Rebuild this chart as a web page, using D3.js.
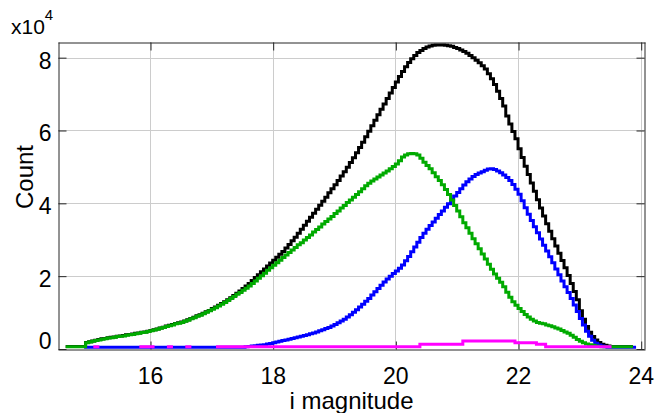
<!DOCTYPE html>
<html><head><meta charset="utf-8">
<script src="https://cdn.jsdelivr.net/npm/d3@7"></script>
<style>body{margin:0;background:#fff} svg{display:block}</style>
</head><body>
<svg id="chart" width="665" height="413"></svg>
<script>
// bins: left edges from 14.65, width 0.05 mag
const binStart = 14.65, binWidth = 0.05;
const xTicks = [16, 18, 20, 22, 24];
const xTickLabels = ["16", "18", "20", "22", "24"];
const yTicks = [0, 2, 4, 6, 8];
const yTickLabels = ["0", "2", "4", "6", "8"];
const xLabel = "i magnitude", yLabel = "Count";

// values in units of 10^4
const blackTotal = [
 .07,.07,.07,.07,.07,.07,.18,
 .20,.22,.24,.26,.28,.29,.31,.32,.33,.35,
 .36,.37,.39,.40,.41,.43,.44,.46,.47,.49,
 .51,.53,.55,.58,.60,.63,.65,.67,.70,.72,
 .74,.77,.80,.84,.87,.91,.94,.98,1.02,1.06,
 1.11,1.15,1.20,1.25,1.30,1.35,1.41,1.47,1.53,1.59,
 1.66,1.73,1.80,1.88,1.96,2.04,2.12,2.20,2.28,2.36,
 2.44,2.52,2.60,2.68,2.77,2.87,2.97,3.07,3.18,3.29,
 3.40,3.51,3.62,3.73,3.84,3.95,4.06,4.17,4.29,4.40,
 4.51,4.63,4.75,4.87,4.99,5.12,5.25,5.39,5.53,5.68,
 5.83,5.98,6.13,6.28,6.43,6.58,6.73,6.88,7.03,7.18,
 7.33,7.48,7.62,7.75,7.87,7.97,8.06,8.14,8.20,8.25,
 8.29,8.32,8.34,8.35,8.35,8.35,8.34,8.33,8.31,8.28,
 8.25,8.21,8.17,8.12,8.06,8.00,7.93,7.86,7.78,7.69,
 7.56,7.42,7.26,7.08,6.88,6.67,6.40,6.18,5.97,5.77,
 5.50,5.26,5.02,4.79,4.56,4.33,4.10,3.87,3.65,3.44,
 3.23,3.03,2.83,2.63,2.43,2.23,2.02,1.80,1.58,1.35,
 1.05,0.82,0.62,0.46,0.34,0.25,0.18,0.13,0.10,0.08,
 .07,.07,.07,.07,.07,.07,.07,null
];
const greenSeries = [
 .06,.06,.06,.06,.06,.06,.17,
 .19,.21,.23,.25,.27,.28,.30,.31,.32,.34,
 .35,.36,.38,.39,.40,.42,.43,.45,.46,.48,
 .50,.52,.54,.57,.59,.62,.64,.66,.69,.71,
 .73,.76,.79,.83,.86,.90,.93,.97,1.01,1.05,
 1.09,1.13,1.18,1.23,1.28,1.33,1.39,1.44,1.50,1.55,
 1.61,1.67,1.73,1.80,1.87,1.94,2.01,2.08,2.16,2.23,
 2.30,2.37,2.44,2.51,2.58,2.65,2.72,2.79,2.86,2.92,
 2.99,3.06,3.13,3.21,3.28,3.35,3.43,3.50,3.57,3.64,
 3.72,3.79,3.87,3.94,4.02,4.09,4.17,4.24,4.32,4.40,
 4.48,4.55,4.61,4.67,4.72,4.78,4.83,4.89,4.95,5.01,
 5.08,5.17,5.27,5.33,5.36,5.37,5.36,5.33,5.24,5.13,
 5.04,4.95,4.84,4.73,4.63,4.51,4.38,4.24,4.09,3.94,
 3.79,3.63,3.47,3.33,3.18,3.03,2.89,2.75,2.61,2.47,
 2.33,2.19,2.06,1.94,1.83,1.71,1.56,1.42,1.30,1.20,
 1.11,1.03,0.95,0.88,0.82,0.77,0.73,0.71,0.69,0.66,
 0.64,0.61,0.58,0.55,0.51,0.47,0.43,0.38,0.32,0.26,
 0.21,0.17,0.14,0.12,0.10,0.08,0.07,0.06,0.06,0.06,
 .06,.06,.06,.06,.06,.06,.06,null
];
const blueSeries = [
 null,null,null,null,null,null,.05,
 .05,.05,.05,.05,.05,.05,.05,.05,.05,.05,
 .05,.05,.05,.05,.05,.05,.05,.05,.05,.05,
 .05,.05,.05,.05,.05,.05,.05,.05,.05,.05,
 .05,.05,.05,.05,.05,.05,.05,.05,.05,.05,
 .05,.05,.05,.05,.05,.05,.05,.05,.05,.05,
 .05,.06,.07,.08,.09,.10,.11,.12,.14,.15,
 .17,.19,.21,.23,.25,.27,.29,.31,.33,.35,
 .37,.39,.42,.44,.47,.50,.53,.56,.59,.63,
 .67,.72,.77,.82,.88,.94,1.01,1.08,1.15,1.23,
 1.31,1.39,1.48,1.57,1.66,1.75,1.84,1.92,2.00,2.07,
 2.14,2.22,2.31,2.42,2.54,2.67,2.80,2.93,3.06,3.18,
 3.29,3.39,3.49,3.59,3.69,3.79,3.89,3.99,4.10,4.20,
 4.30,4.40,4.50,4.59,4.67,4.74,4.79,4.83,4.87,4.91,
 4.94,4.95,4.93,4.89,4.84,4.78,4.71,4.63,4.52,4.39,
 4.25,4.07,3.88,3.70,3.53,3.36,3.19,3.02,2.85,2.69,
 2.53,2.37,2.20,2.04,1.87,1.71,1.55,1.39,1.21,1.03,
 0.84,0.66,0.49,0.35,0.24,0.16,0.11,0.08,0.06,0.05,
 .05,.05,.05,.05,.05,.05,.05,.05
];
const magentaSeries = [
 null,null,null,null,null,null,null,
 null,null,.06,null,null,null,null,null,null,null,
 null,null,null,null,null,null,null,.06,.06,.06,
 .06,null,null,null,null,null,.06,null,null,null,
 null,null,.06,null,null,null,null,null,null,null,
 null,null,.06,.06,.06,.06,.06,.06,.06,.06,
 .06,.06,.06,.06,.06,.06,.06,.06,.06,.06,
 .06,.06,.06,.06,.06,.06,.06,.06,.06,.06,
 .06,.06,.06,.06,.06,.06,.06,.06,.06,.06,
 .06,.06,.06,.06,.06,.06,.06,.06,.06,.06,
 .06,.06,.06,.06,.06,.06,.06,.06,.06,.06,
 .06,.06,.06,.06,.06,.06,.06,.06,.13,.13,
 .13,.13,.13,.13,.13,.13,.13,.13,.13,.13,
 .13,.13,.22,.22,.22,.22,.22,.22,.22,.22,
 .22,.22,.22,.22,.22,.22,.22,.22,.22,.17,
 .17,.17,.17,.17,.17,.17,.13,.13,.13,.06,
 .06,.06,.06,.06,.06,.06,.06,.06,.06,.06,
 .06,.06,.06,.06,.06,.06,.06,.06,.06,.06,
 null,null,null,null,null,null,null,null
];
const binEdges = blackTotal.map((_, i) => +(binStart + i * binWidth).toFixed(2));

const svg = d3.select("#chart");
const L = 58, R = 645, T = 42, B = 349;
const x = d3.scaleLinear().domain([14.5, 24.07]).range([L, R]);
const y = d3.scaleLinear().domain([0, 8.43]).range([B, T]);
const FONT = "'Liberation Sans', Arial, sans-serif";
const axisCol = "#262626";

// grid
const grid = svg.append("g").attr("stroke", "#cccccc").attr("stroke-width", 1);
xTicks.forEach(t => grid.append("line")
  .attr("x1", Math.round(x(t)) + 0.5).attr("x2", Math.round(x(t)) + 0.5)
  .attr("y1", T).attr("y2", B));
yTicks.filter(t => t > 0).forEach(t => grid.append("line")
  .attr("y1", Math.round(y(t)) + 0.5).attr("y2", Math.round(y(t)) + 0.5)
  .attr("x1", L).attr("x2", R));

// series as stairs
function stairs(vals) {
  const pts = [];
  vals.forEach((v, i) => {
    pts.push({ x: binEdges[i], v });
    pts.push({ x: binEdges[i] + binWidth, v });
  });
  return pts;
}
const line = d3.line().defined(d => d.v != null).x(d => x(d.x)).y(d => y(d.v));
svg.append("clipPath").attr("id", "clip").append("rect")
  .attr("x", L).attr("y", T - 2).attr("width", R - L).attr("height", B - T + 4);
const series = [
  { vals: blackTotal, color: "#000000" },
  { vals: blueSeries, color: "#0000ff" },
  { vals: greenSeries, color: "#00aa00" },
  { vals: magentaSeries, color: "#ff00ff" }
];

// axes box and ticks
const gx = svg.append("g").attr("transform", `translate(0,${B + 0.5})`)
  .call(d3.axisBottom(x).tickValues(xTicks).tickFormat((d, i) => xTickLabels[i]).tickSize(-8).tickSizeOuter(0).tickPadding(18));
const gxt = svg.append("g").attr("transform", `translate(0,${T + 0.5})`)
  .call(d3.axisTop(x).tickValues(xTicks).tickFormat("").tickSize(-8).tickSizeOuter(0));
const gy = svg.append("g").attr("transform", `translate(${L + 0.5},0)`)
  .call(d3.axisLeft(y).tickValues(yTicks).tickFormat((d, i) => yTickLabels[i]).tickSize(-8).tickSizeOuter(0).tickPadding(7));
const gyr = svg.append("g").attr("transform", `translate(${R - 0.5},0)`)
  .call(d3.axisRight(y).tickValues(yTicks).tickFormat("").tickSize(-8).tickSizeOuter(0));
[gx, gxt, gy, gyr].forEach(g => {
  g.selectAll("path.domain").attr("stroke", axisCol).attr("stroke-width", 1);
  g.selectAll(".tick line").attr("stroke", axisCol).attr("stroke-width", 1);
  g.selectAll("text").attr("fill", "#000").style("font-family", FONT).style("font-size", "23px");
});
gx.selectAll(".tick line").attr("transform", "translate(0.5,0)");
gxt.selectAll(".tick line").attr("transform", "translate(0.5,0)");
gx.selectAll("text").attr("dy", null).attr("y", 34);
gy.selectAll("text").attr("dy", (d) => d === 0 ? "-0.02em" : "0.45em");

const lines = svg.append("g").attr("clip-path", "url(#clip)");
series.forEach(s => {
  lines.append("path").attr("d", line(stairs(s.vals)))
    .attr("fill", "none").attr("stroke", s.color).attr("stroke-width", 3)
    .attr("stroke-linejoin", "miter").attr("stroke-linecap", "square");
});

// axis labels
svg.append("text").attr("x", (L + R) / 2).attr("y", 409).attr("text-anchor", "middle")
  .style("font-family", FONT).style("font-size", "24px").text(xLabel);
svg.append("text").attr("transform", `translate(33,177) rotate(-90)`)
  .attr("text-anchor", "middle").style("font-family", FONT).style("font-size", "24px").text(yLabel);
const ex = svg.append("text").attr("x", 11).attr("y", 34).style("font-family", FONT).style("font-size", "21px");
ex.append("tspan").text("x10");
ex.append("tspan").attr("dy", -14).style("font-size", "15px").text("4");
</script>
</body></html>
